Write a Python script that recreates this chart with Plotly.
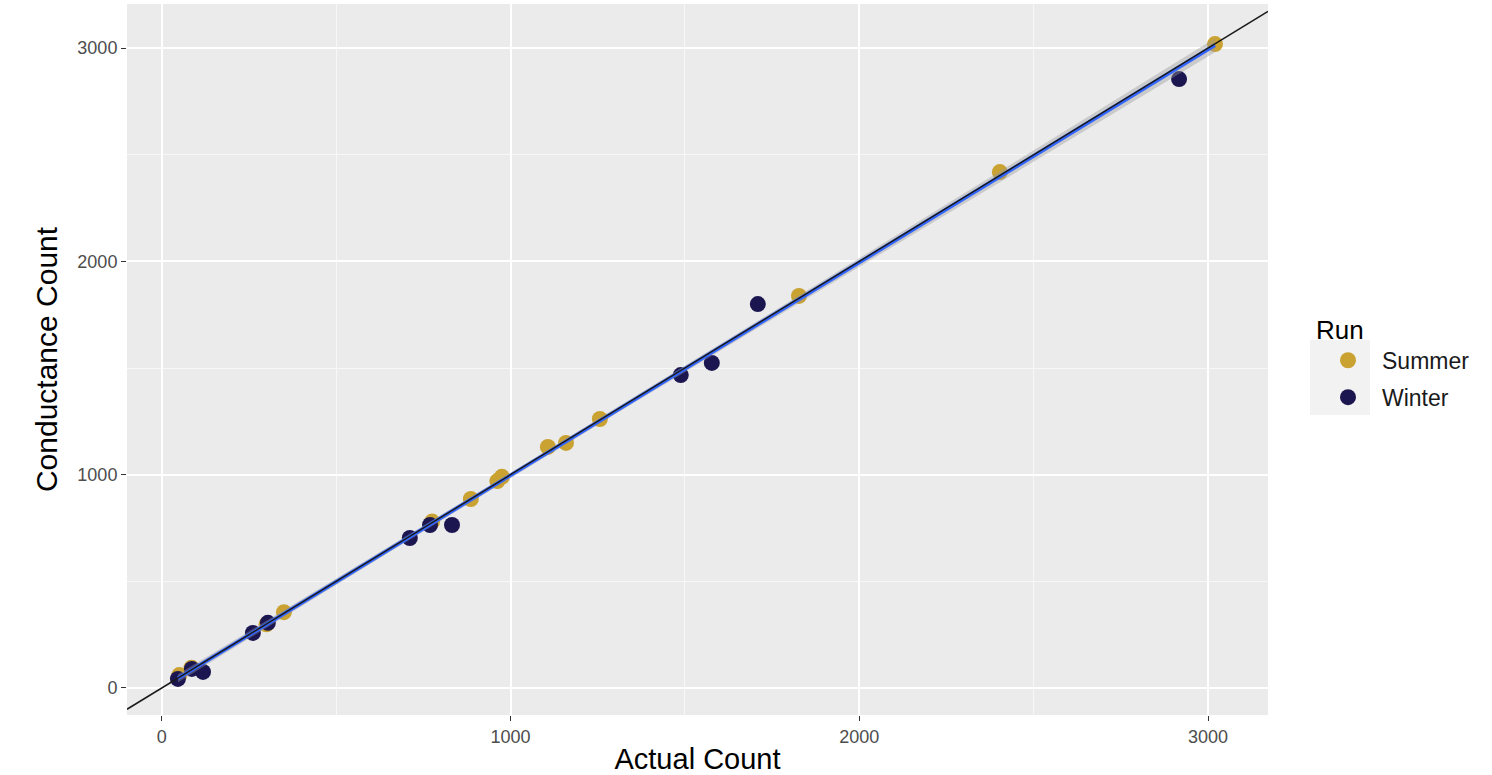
import numpy as np
import plotly.graph_objects as go

# ---- data ----
summer_actual = [3020, 2403, 1827, 1256, 1159, 1107, 975, 962, 886, 775, 350, 300, 50, 85]
summer_cond = [3019, 2419, 1838, 1261, 1149, 1130, 990, 970, 886, 780, 355, 298, 60, 95]

winter_actual = [2917, 1709, 1577, 1488, 832, 769, 711, 304, 261, 118, 86, 46]
winter_cond = [2855, 1800, 1524, 1467, 764, 764, 703, 305, 258, 75, 89, 42]

x_ticks = [0, 1000, 2000, 3000]
y_ticks = [0, 1000, 2000, 3000]
x_range = [-100, 3172]
y_range = [-127, 3207]

SUMMER = "#C9A232"
WINTER = "#1C1650"

# ---- linear fit over all points (geom_smooth(method="lm")) ----
xa = np.array(summer_actual + winter_actual, dtype=float)
ya = np.array(summer_cond + winter_cond, dtype=float)
n = len(xa)
slope, intercept = np.polyfit(xa, ya, 1)
resid = ya - (slope * xa + intercept)
s = np.sqrt(np.sum(resid ** 2) / (n - 2))
xg = np.linspace(xa.min(), xa.max(), 80)
yg = slope * xg + intercept
se = s * np.sqrt(1.0 / n + (xg - xa.mean()) ** 2 / np.sum((xa - xa.mean()) ** 2))
tq = 2.064
upper = yg + tq * se
lower = yg - tq * se

fig = go.Figure()

fig.add_trace(go.Scatter(
    x=summer_actual, y=summer_cond, mode="markers", name="Summer",
    legendgroup="s",
    marker=dict(color=SUMMER, size=16, line=dict(width=0)),
))
fig.add_trace(go.Scatter(
    x=winter_actual, y=winter_cond, mode="markers", name="Winter",
    legendgroup="w",
    marker=dict(color=WINTER, size=16, line=dict(width=0)),
))

# confidence band
fig.add_trace(go.Scatter(
    x=np.concatenate([xg, xg[::-1]]), y=np.concatenate([upper, lower[::-1]]),
    fill="toself", fillcolor="rgba(153,153,153,0.4)", line=dict(width=0),
    mode="lines", hoverinfo="skip", showlegend=False,
))
# regression line
fig.add_trace(go.Scatter(
    x=xg, y=yg, mode="lines", line=dict(color="#3366FF", width=3.8),
    showlegend=False, hoverinfo="skip",
))
# identity line y = x across the panel
fig.add_trace(go.Scatter(
    x=x_range, y=x_range, mode="lines", line=dict(color="#1a1a1a", width=1.5),
    showlegend=False, hoverinfo="skip",
))

axis_common = dict(
    showgrid=True, gridcolor="white", gridwidth=2,
    zeroline=False, showline=False,
    ticks="outside", ticklen=5, tickwidth=1.2, tickcolor="#333333",
    tickfont=dict(family="Liberation Sans, Arial, sans-serif", size=18, color="#4D4D4D"),
    minor=dict(dtick=500, showgrid=True, gridcolor="#F7F7F7", gridwidth=1, ticks=""),
)

fig.update_layout(
    width=1492, height=775,
    paper_bgcolor="white", plot_bgcolor="#EBEBEB",
    margin=dict(l=127, r=224, t=4, b=60),
    font=dict(family="Liberation Sans, Arial, sans-serif", color="black"),
    xaxis=dict(
        range=x_range, tickvals=x_ticks, autorange=False,
        title=dict(text="Actual Count", font=dict(size=29, color="black"), standoff=4),
        **axis_common,
    ),
    yaxis=dict(
        range=y_range, tickvals=y_ticks, autorange=False,
        title=dict(text="Conductance Count", font=dict(size=30, color="black"), standoff=10),
        **axis_common,
    ),
    legend=dict(
        title=dict(text="Run", font=dict(size=26, color="black")),
        font=dict(size=23, color="#1a1a1a"),
        x=(1314 - 127) / 1141, xanchor="left",
        y=(715 - 305) / 711, yanchor="top",
        bgcolor="rgba(0,0,0,0)", itemwidth=58, tracegroupgap=4,
    ),
    shapes=[dict(
        type="rect", xref="paper", yref="paper",
        x0=(1310 - 127) / 1141, x1=(1370 - 127) / 1141,
        y0=(715 - 415) / 711, y1=(715 - 340) / 711,
        fillcolor="#F2F2F2", line=dict(width=0), layer="below",
    )],
    showlegend=True,
)

fig.write_html("out.html", config={"displayModeBar": False},
               post_script="document.body.style.margin='0px';")
